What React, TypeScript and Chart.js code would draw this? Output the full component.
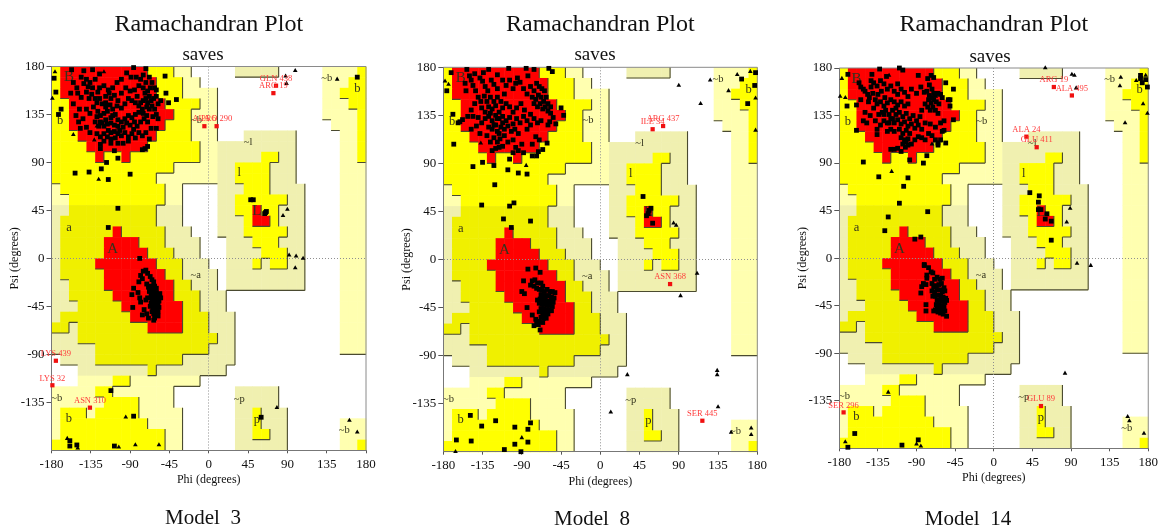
import React, { useEffect, useRef } from "react";
import { Chart, registerables } from "chart.js";

Chart.register(...registerables);

type Pair = [number, number];

// Region map: 36 rows (psi 180 -> -180), runs of cells (phi -180 -> 180), 10 degrees each.
const regionRows: string[] = [
  "y1 r10 y3 p2 .5 k5 .5 p4 y1",
  "y1 r11 y3 p2 .14 p3 y2",
  "y1 r11 y3 p4 .12 p2 y3",
  "y2 r11 y4 p2 .12 p3 y2",
  "y2 r12 y2 p3 .12 p4 y1",
  "y2 r11 y3 p3 .13 p3 y1",
  "y3 r9 y4 p3 .3 k6 .5 p2 y1",
  "y4 r7 y6 p2 k9 .5 p2 y1",
  "y5 r1 y2 r1 y8 p2 k5 y2 k2 .5 p2 y1",
  "y14 p5 k2 y4 k3 .5 p3",
  "y12 p7 k2 y4 k3 .5 p3",
  "p1 y12 p2 .4 k3 y3 k4 .4 p3",
  "p2 y11 p2 .4 k2 y6 k2 .4 p3",
  "k2 d10 k3 .4 k2 y2 r1 y2 k3 .4 p3",
  "k1 d11 k3 .4 k3 y1 r2 y1 k3 .4 p3",
  "k1 d6 r1 d5 k3 .3 k3 y5 k2 .4 p3",
  "k1 d5 r4 d3 k4 .3 k3 y3 k3 .4 p3",
  "k1 d5 r5 d3 k3 .3 k4 y3 k2 .4 p3",
  "k1 d4 r7 d3 k3 .2 k3 y1 k1 y2 k2 .4 p3",
  "k1 d5 r7 d2 k4 .1 k9 .4 p3",
  "k2 d4 r8 d2 k3 .1 k9 .4 p3",
  "k2 d5 r7 d3 k3 .13 p3",
  "k3 d5 r7 d2 k3 .13 p3",
  "k1 d8 r6 d3 k3 .12 p3",
  "d2 k1 d8 r4 d3 k3 .12 p3",
  "k3 d16 k2 .12 p3",
  "k5 d13 k3 .12 p3",
  ".1 k4 d10 k6 .15",
  ".3 k8 d1 k8 .16",
  ".3 p4 y2 p8 .19",
  "p5 y2 p7 .7 k5 .10",
  "p6 y4 p4 .7 k5 .10",
  "p1 y3 p1 y5 p5 .6 k2 y1 k3 .9",
  "p1 y10 p4 .6 k2 y1 k3 .6 p3",
  "p1 y12 p2 .6 k2 y2 k2 .6 p3",
  "y13 p2 .6 k6 .6 p2 y1",
];

const phiTicks: number[] = [-180, -135, -90, -45, 0, 45, 90, 135, 180];
const psiTicks: number[] = [-135, -90, -45, 0, 45, 90, 135, 180];

const regionLabelText: string[] = ["B", "b", "a", "A", "~b", "~l", "l", "L", "~a", "~b", "b", "~b", "b", "~p", "p", "~b"];
const regionLabelPhi: number[] = [-160, -170, -160, -110, -14, 45, 35, 55, -15, 135, 170, -174, -160, 35, 55, 155];
const regionLabelPsi: number[] = [170, 129, 29, 9, 130, 109, 80, 44, -16, 169, 159, -131, -150, -132, -151, -161];

// ---- Model 3
const m3Squares: Pair[] = [
  [-177, 169], [-175, 156], [-169, 140], [-172, 135], [-50, 171], [-49, 155], [-46, 146], [-37, 149],
  [-157, 177], [-143, 176], [-133, 177], [-86, 179], [-72, 178], [-94, 174], [-89, 170], [-83, 170], [-125, 173],
  [-153, 80], [-137, 81], [-123, 84], [-117, 90], [-104, 94], [-90, 79], [-115, 74], [-104, 47], [-115, 29], [-79, 0],
  [-155, 165], [-151, 160], [-146, 170], [-143, 164], [-140, 168], [-138, 161], [-136, 165], [-133, 160], [-130, 168],
  [-127, 156], [-150, 155], [-146, 151], [-140, 156], [-137, 150], [-134, 154], [-130, 150], [-125, 160], [-120, 162],
  [-115, 158], [-110, 160], [-118, 152], [-114, 155], [-112, 150], [-108, 153], [-105, 165], [-100, 168], [-95, 160],
  [-90, 157], [-85, 158], [-80, 162], [-78, 168], [-75, 172], [-72, 165], [-68, 170], [-65, 165], [-62, 160], [-60, 158],
  [-75, 160], [-73, 155], [-70, 157], [-68, 152], [-72, 150], [-75, 148], [-70, 146], [-66, 148], [-63, 150], [-60, 152],
  [-65, 143], [-62, 140], [-68, 140], [-71, 142], [-58, 145], [-55, 148], [-60, 135], [-64, 133], [-76, 140], [-80, 143],
  [-85, 128], [-148, 140], [-152, 134], [-149, 128], [-144, 131], [-140, 140], [-136, 136], [-132, 142], [-128, 146],
  [-125, 150], [-122, 145], [-118, 142], [-127, 138], [-124, 134], [-120, 136], [-116, 138], [-113, 144], [-110, 140],
  [-107, 135], [-104, 130], [-112, 132], [-118, 130], [-122, 127], [-126, 124], [-130, 128], [-120, 124], [-116, 126],
  [-112, 127], [-108, 125], [-104, 124], [-100, 128], [-96, 131], [-92, 134], [-88, 132], [-84, 135], [-80, 137],
  [-102, 120], [-98, 123], [-94, 127], [-90, 125], [-86, 121], [-82, 124], [-78, 128], [-74, 131], [-70, 128],
  [-115, 120], [-112, 118], [-108, 119], [-104, 117], [-100, 115], [-96, 118], [-92, 114], [-88, 117], [-84, 113],
  [-80, 118], [-76, 115], [-72, 118], [-68, 112], [-66, 122], [-60, 122], [-128, 117], [-124, 114], [-120, 110],
  [-124, 107], [-124, 103], [-108, 101], [-112, 108], [-104, 108], [-98, 108], [-92, 110], [-76, 102], [-73, 103],
  [-70, 105], [-140, 123], [-136, 118], [-147, 122], [-155, 145], [-158, 155], [-120, 117], [-100, 141], [-96, 145],
  [-92, 150], [-88, 148], [-104, 148], [-100, 155], [-84, 146], [-82, 152], [-78, 146], [-67, 160], [-71, 134], [-58, 131],
  [-112, 112], [-107, 113], [-116, 114], [-110, 134], [-124, 128], [-128, 133], [-118, 146], [-105, 143], [-75, 136],
  // core of A
  [-75, -12], [-72, -11], [-78, -16], [-76, -19], [-80, -22], [-86, -28], [-88, -34], [-87, -46], [-81, -32], [-79, -37],
  [-78, -41], [-70, -14], [-67, -17], [-65, -20], [-63, -22], [-71, -24], [-69, -27], [-66, -26], [-62, -26], [-60, -28],
  [-68, -31], [-65, -30], [-63, -32], [-60, -32], [-58, -35], [-56, -33], [-55, -37], [-66, -34], [-63, -36], [-61, -36],
  [-59, -38], [-57, -40], [-65, -38], [-62, -40], [-60, -41], [-58, -43], [-66, -42], [-63, -44], [-61, -44], [-59, -46],
  [-57, -46], [-64, -47], [-62, -48], [-60, -49], [-58, -50], [-65, -50], [-63, -52], [-61, -53], [-58, -54], [-70, -37],
  [-67, -45], [-76, -53], [-74, -48], [-71, -52], [-69, -56], [-63, -58], [-62, -56], [-72, -39],
  [-112, -124], [-86, -148], [-159, -171], [-159, -176], [-151, -175], [-108, -176],
  [48, 55], [51, 55], [65, 43], [64, 42], [66, 44], [60, -149], [170, 170],
];
const m3Triangles: Pair[] = [
  [-176, 175], [-179, 150], [-120, 175], [-155, 116], [-126, 74], [-131, 111], [-128, 124],
  [88, 171], [99, 176], [89, 164], [90, 46], [85, 40], [92, 3], [100, 2], [108, 0], [99, -9], [78, -140], [161, -152], [170, -163],
  [-95, -149], [-162, -169], [-150, -178], [-103, -177], [-84, -175], [-57, -175], [147, 168],
];
const m3OutlierPhi: number[] = [-5, 9, 77, 74, -175, -179, -136];
const m3OutlierPsi: number[] = [124, 124, 162, 155, -96, -119, -140];
const m3OutlierText: string[] = ["ALA 6", "PRO 290", "GLN 438", "ARG 19", "LYS 439", "LYS 32", "ASN 310"];

// ---- Model 8
const m8Squares: Pair[] = [
  [-171, 175], [-176, 158], [-169, 136], [-168, 108], [-146, 87], [-135, 91], [-122, 88], [-106, 84], [-94, 81], [-84, 80],
  [-121, 70], [-136, 51], [-104, 50], [-99, 53], [-111, 38], [-80, 36], [-102, 30], [-45, 142], [-42, 135], [-51, 127],
  [-55, 176], [-59, 179], [-61, 109], [-66, 103], [-71, 101], [-73, 97], [-78, 97], [-161, 129], [-163, 128],
  [-153, 178], [-150, 172], [-144, 174], [-134, 175], [-128, 178], [-118, 173], [-105, 179], [-95, 170], [-85, 179], [-76, 178], [-83, 172],
  [-155, 165], [-154, 158], [-148, 168], [-146, 163], [-143, 158], [-138, 170], [-135, 167], [-132, 162], [-129, 158], [-125, 168],
  [-122, 164], [-118, 160], [-112, 168], [-108, 163], [-104, 168], [-100, 160], [-97, 165], [-92, 166], [-88, 160], [-84, 155],
  [-80, 162], [-76, 158], [-73, 165], [-70, 162], [-67, 160], [-64, 158], [-78, 152], [-74, 150], [-71, 154], [-68, 152], [-65, 148],
  [-62, 152], [-60, 146], [-57, 143], [-76, 146], [-72, 143], [-69, 146], [-66, 141], [-63, 143], [-60, 139], [-57, 137], [-54, 133],
  [-148, 140], [-144, 146], [-140, 152], [-137, 148], [-133, 153], [-130, 148], [-126, 152], [-122, 148], [-136, 142], [-132, 138],
  [-128, 143], [-124, 141], [-120, 144], [-116, 138], [-112, 142], [-108, 146], [-104, 143], [-100, 138], [-96, 142], [-91, 146],
  [-87, 140], [-140, 133], [-146, 134], [-152, 134], [-158, 131], [-136, 128], [-132, 132], [-128, 134], [-124, 130], [-120, 135],
  [-116, 132], [-112, 134], [-108, 130], [-104, 133], [-100, 127], [-96, 132], [-92, 128], [-88, 134], [-84, 130], [-80, 136],
  [-76, 132], [-72, 128], [-68, 130], [-142, 125], [-148, 122], [-128, 124], [-124, 122], [-120, 126], [-118, 120], [-114, 124],
  [-110, 122], [-106, 125], [-102, 120], [-98, 122], [-94, 118], [-84, 122], [-80, 126], [-60, 126], [-58, 129],
  [-122, 114], [-118, 110], [-115, 113], [-112, 106], [-116, 105], [-120, 104], [-124, 102], [-110, 116], [-106, 110], [-100, 112],
  [-97, 105], [-94, 102], [-90, 108], [-88, 100], [-78, 108], [-74, 115], [-70, 112], [-130, 116], [-138, 118], [-104, 94], [-100, 100],
  [-126, 110], [-118, 132], [-122, 126], [-112, 128], [-116, 118], [-126, 137], [-114, 148], [-118, 152], [-110, 155],
  [-74, -8], [-83, -9], [-69, -12], [-88, -20], [-75, -19], [-78, -20], [-90, -30], [-87, -32], [-84, -45], [-78, -52],
  [-76, -62], [-69, -66], [-71, -61], [-74, -56], [-80, -24], [-76, -25], [-72, -22], [-68, -22], [-66, -25], [-73, -27],
  [-70, -28], [-67, -29], [-64, -30], [-61, -28], [-58, -30], [-55, -30], [-52, -31], [-68, -33], [-65, -34], [-62, -34],
  [-59, -34], [-56, -35], [-53, -36], [-72, -38], [-69, -37], [-66, -38], [-63, -38], [-60, -39], [-57, -39], [-54, -40],
  [-70, -41], [-67, -42], [-64, -42], [-61, -43], [-58, -43], [-55, -44], [-68, -46], [-65, -46], [-62, -47], [-59, -47],
  [-56, -48], [-70, -49], [-66, -50], [-63, -51], [-60, -51], [-68, -54], [-65, -55], [-62, -55], [-70, -58], [-66, -59], [-73, -59],
  [49, 59], [58, 48], [56, 46], [55, 43], [53, 41], [60, 34], [177, 163], [169, 146], [178, 175], [162, 169],
  [-149, -146], [-136, -156], [-120, -151], [-98, -157], [-83, -159], [-80, -153], [-165, -169], [-148, -170], [-98, -173], [-83, -171],
  [-110, -178], [-91, -180],
];
const m8Triangles: Pair[] = [
  [-178, 167], [-174, 164], [-85, 88], [-137, 109], [90, 163], [115, 146], [126, 168], [157, 173], [147, 158], [172, 176],
  [178, 151], [178, 121], [84, 34], [87, 32], [111, -13], [92, -34], [31, -108], [134, -104], [134, -108], [135, -138], [12, -143],
  [150, -162], [173, -158], [173, -164], [-90, -167], [-166, -180],
];
const m8OutlierPhi: number[] = [60, 72, 80, 117];
const m8OutlierPsi: number[] = [122, 125, -23, -151];
const m8OutlierText: string[] = ["ILE 34", "ARG 437", "ASN 368", "SER 445"];

// ---- Model 14
const m14Squares: Pair[] = [
  [-170, 174], [-171, 144], [-160, 121], [-152, 91], [-134, 77], [-100, 76], [-105, 68], [-110, 52], [-77, 44], [-123, 39], [-127, 26],
  [-92, 18], [-85, 20], [-81, -6], [-98, 93], [-82, 90], [-78, 97], [-56, 166], [-47, 160], [-53, 150], [-51, 150], [-51, 144], [-47, 131],
  [-56, 109], [-65, 109], [-65, 107], [-58, 121], [-60, 120],
  [-133, 179], [-110, 180], [-106, 178], [-142, 174], [-143, 168], [-125, 172], [-112, 165], [-88, 173], [-73, 173], [-70, 171],
  [-157, 166], [-155, 162], [-152, 160], [-150, 158], [-147, 155], [-143, 162], [-140, 166], [-136, 163], [-132, 168], [-128, 165],
  [-145, 152], [-141, 156], [-138, 150], [-135, 155], [-131, 158], [-127, 152], [-124, 160], [-120, 163], [-116, 158], [-112, 155],
  [-108, 160], [-104, 157], [-100, 153], [-96, 160], [-90, 156], [-85, 162], [-81, 157], [-77, 170], [-75, 164], [-72, 160], [-70, 156],
  [-78, 158], [-75, 154], [-72, 152], [-68, 154], [-65, 156], [-62, 155], [-60, 152], [-76, 150], [-73, 147], [-70, 150], [-67, 148],
  [-64, 146], [-80, 146], [-77, 143], [-74, 140], [-71, 143], [-68, 140], [-65, 137], [-84, 140], [-86, 134], [-90, 130],
  [-150, 138], [-146, 148], [-155, 150], [-160, 145], [-144, 135], [-140, 142], [-136, 146], [-132, 148], [-128, 144], [-124, 147],
  [-120, 150], [-116, 148], [-112, 145], [-108, 148], [-104, 144], [-100, 146], [-134, 136], [-130, 138], [-126, 140], [-122, 136],
  [-118, 140], [-114, 136], [-110, 138], [-106, 134], [-102, 137], [-98, 132], [-94, 135], [-138, 130], [-132, 126], [-128, 130],
  [-124, 128], [-120, 132], [-116, 128], [-112, 131], [-108, 127], [-104, 129], [-100, 125], [-96, 127], [-92, 123], [-88, 126],
  [-84, 122], [-80, 128], [-152, 130], [-148, 128], [-136, 122], [-124, 120], [-120, 122], [-116, 120], [-110, 122], [-106, 118],
  [-102, 121], [-98, 118], [-104, 112], [-102, 110], [-100, 113], [-106, 108], [-103, 105], [-100, 107], [-112, 104], [-116, 103],
  [-120, 103], [-108, 101], [-88, 115], [-84, 114], [-80, 112], [-92, 112], [-76, 118], [-72, 116], [-68, 112], [-62, 128], [-58, 130],
  [-136, 117], [-96, 108], [-74, 127], [-68, 124], [-62, 112], [-128, 136], [-122, 128], [-114, 142], [-118, 132], [-108, 114],
  [-81, -7], [-76, -9], [-73, -13], [-71, -14], [-78, -16], [-78, -19], [-82, -24], [-79, -25], [-84, -27], [-85, -33], [-79, -44],
  [-79, -50], [-70, -50], [-55, -55], [-72, -24], [-69, -20], [-66, -18], [-63, -20], [-60, -19], [-70, -27], [-67, -26], [-64, -25],
  [-61, -24], [-58, -28], [-72, -31], [-69, -32], [-66, -30], [-63, -30], [-60, -32], [-57, -31], [-71, -36], [-68, -36], [-65, -35],
  [-62, -36], [-59, -37], [-56, -38], [-66, -40], [-63, -40], [-60, -41], [-57, -42], [-67, -44], [-64, -44], [-61, -45], [-58, -46],
  [-55, -40], [-66, -48], [-63, -49], [-60, -49], [-57, -50], [-65, -51], [-62, -52], [-68, -49], [-59, -53],
  [171, 173], [171, 170], [177, 169], [173, 166], [179, 162], [42, 62], [53, 59], [52, 53], [55, 46], [52, 46], [62, 42], [60, 37], [67, 35], [67, 17],
  [-162, -166], [-170, -179], [-107, -177], [-88, -172],
];
const m14Triangles: Pair[] = [
  [-177, 170], [-179, 153], [-173, 152], [-119, 82], [-72, 108], [-122, 173], [60, 180], [91, 174], [94, 173], [96, 161], [148, 171], [147, 163],
  [177, 173], [166, 168], [174, 146], [179, 137], [153, 128], [89, 47], [85, 34], [97, -5], [113, -7], [83, -109], [-123, -127],
  [-173, -174], [-90, -176], [-85, -178], [156, -150], [158, -154], [175, -166],
];
const m14OutlierPhi: number[] = [70, 91, 38, 50, 55, -175];
const m14OutlierPsi: number[] = [162, 154, 115, 105, -140, -146];
const m14OutlierText: string[] = ["ARG 19", "ALA 495", "ALA 24", "GLU 411", "GLU 89", "SER 296"];

const SERIF = "'Liberation Serif', 'Times New Roman', serif";
const COLORS: Record<string, string> = { y: "#FFFF00", d: "#F0F000", r: "#FF0000", p: "#FFFFB0", k: "#F0F0B0" };
const RANK: Record<string, number> = { ".": 0, p: 1, k: 1, y: 2, d: 2, r: 3 };

const grid: string[][] = regionRows.map((row) => {
  const cells: string[] = [];
  row.split(" ").forEach((run) => {
    const n = parseInt(run.slice(1), 10);
    for (let i = 0; i < n; i++) cells.push(run[0]);
  });
  return cells;
});

const regionsPlugin = {
  id: "regions",
  beforeDraw(chart: any) {
    const { ctx, scales, chartArea } = chart;
    const xs = scales.x;
    const ys = scales.y;
    const X = (col: number) => xs.getPixelForValue(-180 + col * 10);
    const Y = (row: number) => ys.getPixelForValue(180 - row * 10);
    ctx.save();
    grid.forEach((cells, r) => {
      cells.forEach((c, k) => {
        if (c === ".") return;
        ctx.fillStyle = COLORS[c];
        ctx.fillRect(X(k), Y(r), X(k + 1) - X(k) + 0.5, Y(r + 1) - Y(r) + 0.5);
      });
    });
    ctx.strokeStyle = "#4a4a30";
    ctx.lineWidth = 1.1;
    ctx.beginPath();
    grid.forEach((cells, r) => {
      cells.forEach((c, k) => {
        if (k < 35 && RANK[c] > RANK[cells[k + 1]]) {
          ctx.moveTo(X(k + 1), Y(r));
          ctx.lineTo(X(k + 1), Y(r + 1));
        }
        if (r < 35 && RANK[c] > RANK[grid[r + 1][k]]) {
          ctx.moveTo(X(k), Y(r + 1));
          ctx.lineTo(X(k + 1), Y(r + 1));
        }
      });
    });
    ctx.stroke();
    ctx.fillStyle = "#33331c";
    ctx.textAlign = "center";
    ctx.textBaseline = "middle";
    regionLabelText.forEach((t, i) => {
      const size = t === "A" || t === "B" || t === "L" ? 15 : t.startsWith("~") ? 10.5 : 12.5;
      ctx.font = `${size}px ${SERIF}`;
      ctx.fillText(t, xs.getPixelForValue(regionLabelPhi[i]), ys.getPixelForValue(regionLabelPsi[i]));
    });
    ctx.strokeStyle = "#8a8a8a";
    ctx.lineWidth = 1;
    ctx.beginPath();
    ctx.moveTo(chartArea.left, chartArea.top);
    ctx.lineTo(chartArea.right, chartArea.top);
    ctx.lineTo(chartArea.right, chartArea.bottom);
    ctx.stroke();
    ctx.restore();
  },
};

const outlierLabelPlugin = {
  id: "outlierLabels",
  afterDatasetsDraw(chart: any) {
    const { ctx, scales } = chart;
    const ds = chart.data.datasets[2];
    const labels: string[] = ds.labelsText;
    ctx.save();
    ctx.font = `8.5px ${SERIF}`;
    ctx.fillStyle = "#ff3a3a";
    ctx.textAlign = "center";
    ctx.textBaseline = "middle";
    ds.data.forEach((p: any, i: number) => {
      ctx.fillText(labels[i], scales.x.getPixelForValue(p.x), scales.y.getPixelForValue(p.y) - 7);
    });
    ctx.restore();
  },
};

type Panel = {
  left: number; right: number; top: number; bottom: number;
  squares: Pair[]; triangles: Pair[];
  phi: number[]; psi: number[]; text: string[];
  sub: string; subX: number; subY: number; model: string; modelX: number; modelY: number;
};

const panels: Panel[] = [
  { left: 51.5, right: 366, top: 66.5, bottom: 450.3, squares: m3Squares, triangles: m3Triangles, phi: m3OutlierPhi, psi: m3OutlierPsi, text: m3OutlierText, sub: "saves", subX: 203, subY: 53, model: "Model  3", modelX: 203, modelY: 517 },
  { left: 443.3, right: 757.3, top: 67.3, bottom: 451.7, squares: m8Squares, triangles: m8Triangles, phi: m8OutlierPhi, psi: m8OutlierPsi, text: m8OutlierText, sub: "saves", subX: 595, subY: 53, model: "Model  8", modelX: 592, modelY: 518 },
  { left: 839.3, right: 1150.3, top: 68, bottom: 448.3, squares: m14Squares, triangles: m14Triangles, phi: m14OutlierPhi, psi: m14OutlierPsi, text: m14OutlierText, sub: "saves", subX: 990, subY: 55, model: "Model  14", modelX: 968, modelY: 518 },
];

function axis(title: string, vertical: boolean): any {
  const fixedSize = vertical ? { width: 46 } : { height: 40 };
  const tickValues = vertical ? psiTicks : phiTicks;
  return {
    type: "linear",
    min: -180,
    max: 180,
    afterBuildTicks(scale: any) {
      scale.ticks = tickValues.map((value) => ({ value }));
    },
    afterFit(scale: any) {
      Object.assign(scale, fixedSize);
    },
    grid: {
      color: (c: any) => (c.tick && c.tick.value === 0 ? "#8f8f8f" : "transparent"),
      tickColor: "#555",
      tickLength: vertical ? 5 : 3,
      lineWidth: 1,
    },
    border: { color: "#777", dash: [1, 2] },
    ticks: {
      autoSkip: false,
      maxRotation: 0,
      padding: vertical ? 2 : 3,
      color: "#111",
      font: { family: SERIF, size: 13 },
    },
    title: {
      display: true,
      text: title,
      color: "#111",
      font: { family: SERIF, size: 12 },
      padding: vertical ? { top: 2.3, bottom: 0 } : { top: 0, bottom: 2.8 },
    },
  };
}

function PanelChart({ panel }: { panel: Panel }) {
  const ref = useRef<HTMLCanvasElement>(null);
  useEffect(() => {
    const toXY = (p: Pair) => ({ x: p[0], y: p[1] });
    const chart = new Chart(ref.current as HTMLCanvasElement, {
      type: "scatter",
      data: {
        datasets: [
          { label: "Residues", data: panel.squares.map(toXY), pointStyle: "rect", pointRadius: 3.4, backgroundColor: "#000", borderWidth: 0, clip: false },
          { label: "Gly", data: panel.triangles.map(toXY), pointStyle: "triangle", pointRadius: 2.7, backgroundColor: "#000", borderWidth: 0, clip: false },
          { label: "Outliers", data: panel.phi.map((x, i) => ({ x, y: panel.psi[i] })), labelsText: panel.text, pointStyle: "rect", pointRadius: 3, backgroundColor: "#f01010", borderWidth: 0, clip: false } as any,
        ],
      },
      options: {
        animation: false,
        responsive: false,
        events: [],
        layout: {
          autoPadding: false,
          padding: { left: panel.left - 46, right: 1161 - panel.right, top: 0, bottom: 531 - panel.bottom - 40 },
        },
        plugins: {
          legend: { display: false },
          tooltip: { enabled: false },
          title: {
            display: true,
            text: "Ramachandran Plot",
            fullSize: false,
            color: "#111",
            font: { family: SERIF, size: 24, weight: "normal", lineHeight: 1 },
            padding: { top: 13, bottom: panel.top - 37 },
          },
        },
        scales: { x: axis("Phi (degrees)", false), y: axis("Psi (degrees)", true) },
      } as any,
      plugins: [regionsPlugin, outlierLabelPlugin],
    });
    return () => chart.destroy();
  }, [panel]);
  return <canvas ref={ref} width={1161} height={531} style={{ position: "absolute", left: 0, top: 0 }} />;
}

function Caption({ text, x, y, size }: { text: string; x: number; y: number; size: number }) {
  return (
    <div
      style={{
        position: "absolute",
        left: x - 100,
        top: y - size / 2,
        width: 200,
        height: size,
        lineHeight: `${size}px`,
        textAlign: "center",
        whiteSpace: "pre",
        fontFamily: SERIF,
        fontSize: size,
        color: "#111",
      }}
    >
      {text}
    </div>
  );
}

export default function App() {
  return (
    <div style={{ position: "absolute", left: 0, top: 0, width: 1161, height: 531, background: "#fff", filter: "blur(0.45px)", overflow: "hidden" }}>
      {panels.map((p) => (
        <React.Fragment key={p.model}>
          <PanelChart panel={p} />
          <Caption text={p.sub} x={p.subX} y={p.subY} size={19} />
          <Caption text={p.model} x={p.modelX} y={p.modelY} size={21} />
        </React.Fragment>
      ))}
    </div>
  );
}
